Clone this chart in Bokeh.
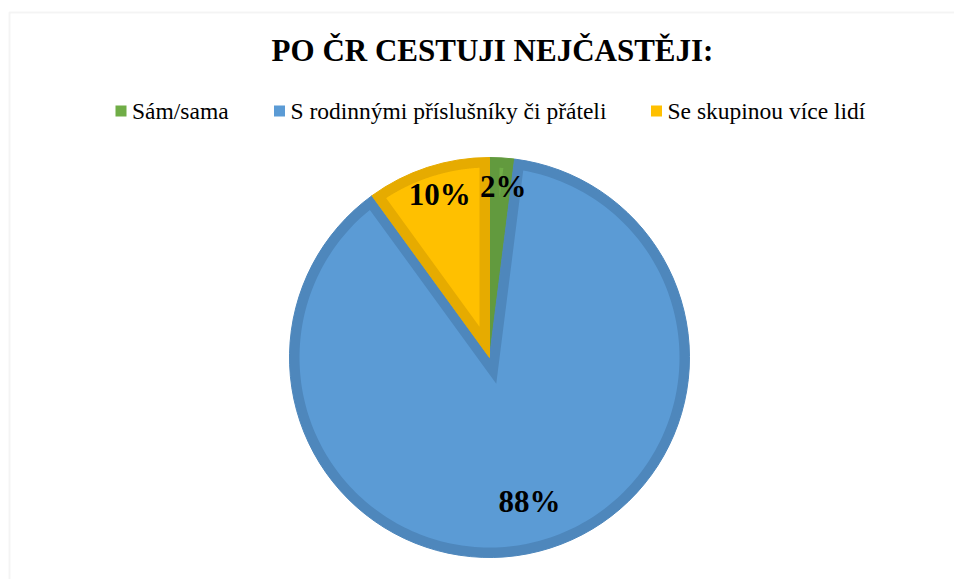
import numpy as np
from bokeh.plotting import figure
from bokeh.models import Range1d, BoxAnnotation, ColumnDataSource
from bokeh.core.properties import value
from bokeh.embed import file_html
from bokeh.resources import INLINE

# ---- data ----
title_text = "PO ČR CESTUJI NEJČASTĚJI:"
categories = ["Sám/sama", "S rodinnými příslušníky či přáteli", "Se skupinou více lidí"]
shares = [2, 88, 10]
label_texts = ["2%", "88%", "10%"]

# ---- styles / layout ----
fill_colors = ["#70AD47", "#5B9BD5", "#FFC000"]
edge_colors = ["#629A3E", "#4E87BC", "#E6AB00"]
legend_x = [120.5, 279, 656]   # legend square centres (px)
SERIF = "Liberation Serif"

W, H = 954, 579
p = figure(width=W, height=H, output_backend="svg", toolbar_location=None,
           x_range=Range1d(0, W), y_range=Range1d(0, H), min_border=0)
p.axis.visible = False
p.grid.visible = False
p.outline_line_color = None
p.background_fill_color = "white"
p.border_fill_color = "white"

# chart frame (only left/top edges visible)
p.add_layout(BoxAnnotation(left=9, right=5000, top=H - 12, bottom=-5000,
                           fill_alpha=0, line_color="#D9D9D9", line_width=2))

cx, cy, R, t = 489, H - 357, 200, 10
vals = np.array(shares, dtype=float)
cum = np.concatenate([[0.0], np.cumsum(vals)]) / vals.sum()
a_start = np.pi / 2 - 2 * np.pi * cum[:-1]
a_end = np.pi / 2 - 2 * np.pi * cum[1:]

src = ColumnDataSource(dict(x=[cx] * 3, y=[cy] * 3, start=a_start, end=a_end,
                            edge=edge_colors))
p.wedge(x="x", y="y", radius=R, start_angle="start", end_angle="end",
        direction="clock", fill_color="edge", line_color="edge", line_width=1,
        source=src)

# inner (lighter) part of each slice -> darker inner border band
xs, ys = [], []
for a0, a1 in zip(a_start, a_end):
    span = a0 - a1
    mid = (a0 + a1) / 2
    d = t / np.sin(span / 2)
    delta = np.arcsin(t / (R - t))
    arc = np.linspace(a0 - delta, a1 + delta, 240)
    xs.append(np.concatenate([[cx + d * np.cos(mid)], cx + (R - t) * np.cos(arc)]))
    ys.append(np.concatenate([[cy + d * np.sin(mid)], cy + (R - t) * np.sin(arc)]))
isrc = ColumnDataSource(dict(xs=xs, ys=ys, fill=fill_colors))
p.patches(xs="xs", ys="ys", fill_color="fill", line_color=None, source=isrc)

# data labels
mids = (a_start + a_end) / 2
rl = np.where(vals / vals.sum() < 0.5, 0.855 * R, 0.745 * R)
lsrc = ColumnDataSource(dict(x=cx + rl * np.cos(mids) + 3, y=cy + rl * np.sin(mids),
                             txt=label_texts))
p.text(x="x", y="y", text="txt", source=lsrc, text_align="center",
       text_baseline="middle", text_font=value(SERIF), text_font_style="bold",
       text_font_size="31px", text_color="black")

# title
tsrc = ColumnDataSource(dict(x=[492], y=[H - 50], txt=[title_text]))
p.text(x="x", y="y", text="txt", source=tsrc, text_align="center",
       text_baseline="middle", text_font=value(SERIF), text_font_style="bold",
       text_font_size="31px", text_color="black")

# legend
lgsrc = ColumnDataSource(dict(x=legend_x, y=[H - 110.5] * 3, fill=fill_colors,
                              tx=[v + 11 for v in legend_x], ty=[H - 110] * 3,
                              txt=categories))
p.scatter(x="x", y="y", source=lgsrc, marker="square", size=11,
          fill_color="fill", line_color=None)
p.text(x="tx", y="ty", text="txt", source=lgsrc, text_align="left",
       text_baseline="middle", text_font=value(SERIF),
       text_font_size="23.5px", text_color="black")

open("out.html", "w").write(file_html(p, INLINE))
